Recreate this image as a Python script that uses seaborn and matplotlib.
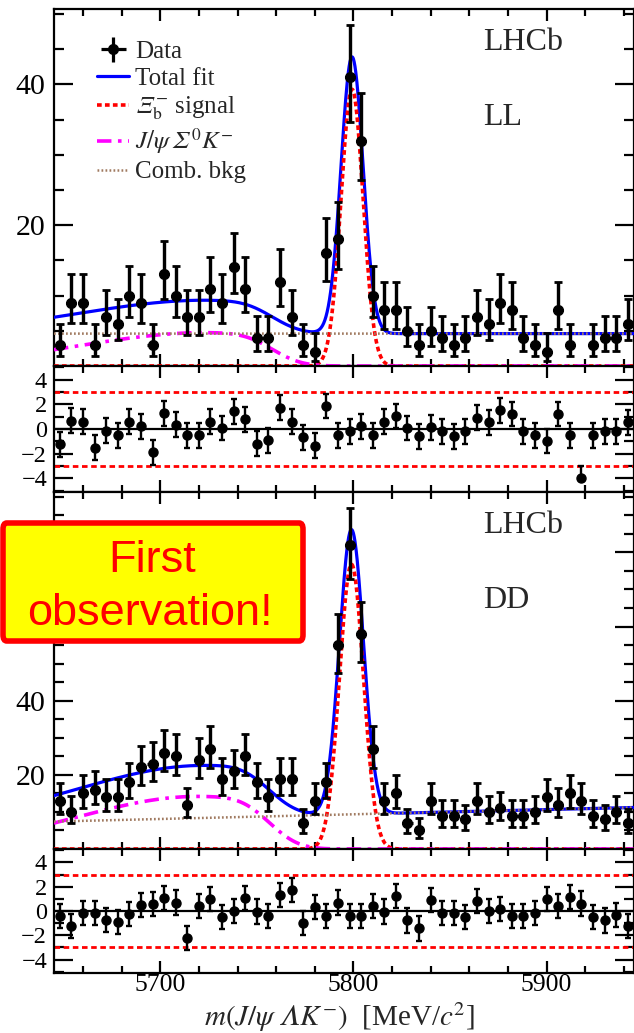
import math
import numpy as np
import pandas as pd
import matplotlib
matplotlib.use("Agg")
import matplotlib.pyplot as plt
import seaborn as sns
from matplotlib.patches import FancyBboxPatch
from matplotlib.ticker import MultipleLocator, FuncFormatter

# ---------------- binning ----------------
mass_lo, mass_hi, bin_width = 5645.0, 5945.0, 6.0
bin_centers = np.arange(mass_lo + bin_width / 2, mass_hi, bin_width)  # 50 bins

# ---------------- LL sample ----------------
ll_counts = [3, 9, 9, 3, 7, 6, 10, 9, 3, 13, 10, 7, 7, 11, 9, 14, 11, 4, 4, 12,
             7, 3, 2, 16, 18, 41, 32, 10, 8, 8, 5, 3, 5, 4, 3, 4, 7, 6, 9, 8,
             4, 3, 2, 8, 3, 0, 3, 4, 4, 6]
ll_pulls = [-1.23, 0.66, 0.60, -1.50, -0.13, -0.52, 0.60, 0.21, -1.89, 1.26,
            0.34, -0.52, -0.52, 0.60, 0.08, 1.44, 0.79, -1.18, -0.92, 1.73,
            0.60, -0.66, -1.36, 1.86, -0.52, -0.18, 0.21, -0.52, 0.60, 1.05,
            0.08, -0.58, 0.13, -0.18, -0.58, -0.18, 0.92, 0.55, 1.52, 1.21,
            -0.18, -0.52, -0.97, 1.21, -0.52, -3.99, -0.52, -0.18, -0.18, 0.55]

# ---------------- DD sample ----------------
dd_counts = [13, 10, 15, 16, 14, 14, 18, 22, 23, 26, 25, 12, 24, 27, 19, 21, 25, 18, 14, 19,
             19, 7, 13, 18, 55, 82, 58, 27, 13, 15, 7, 5, 13, 9, 9, 8, 13, 10, 11, 9,
             9, 10, 14, 12, 15, 13, 9, 8, 10, 7]
dd_pulls = [-0.41, -1.24, -0.14, -0.14, -0.74, -0.91, -0.22, 0.50, 0.55, 1.05,
            0.69, -2.21, 0.41, 0.97, -0.50, 0.00, 1.05, -0.05, -0.41, 1.32,
            1.74, -0.97, 0.33, -0.41, 0.69, -0.41, -0.41, 0.41, -0.05, 1.24,
            -0.77, -1.43, 0.88, -0.14, -0.14, -0.50, 0.83, 0.00, 0.14, -0.41,
            -0.41, -0.14, 0.97, 0.41, 1.16, 0.61, -0.50, -0.77, -0.33, -1.24]

# ---------------- fit components (yields per bin) ----------------
ll_signal = dict(peak=39.3, mean=5799.3, sigma=5.7)
ll_partial = dict(amp=4.75, mu=5724.0, sigma_left=66.0, m_end=5758.0, res=12.0)
ll_comb = dict(at_lo=4.6, at_hi=4.6)

dd_signal = dict(peak=76.8, mean=5799.0, sigma=6.2)
dd_partial = dict(amp=14.2, mu=5720.0, sigma_left=63.0, m_end=5756.5, res=12.0)
dd_comb = dict(at_lo=7.4, at_hi=11.2)

_erf = np.vectorize(math.erf)

# legend / axis texts (italic capital Greek via math-italic code points)
LBL_DATA = "Data"
LBL_TOTAL = "Total fit"
LBL_SIG = "$\U0001D6EF_{\\rm b}^{-}$ signal"
LBL_PR = "$J/\\psi\\,\U0001D6F4^{0}K^{-}$"
LBL_COMB = "Comb. bkg"
XLABEL = "$m(J/\\psi\\;\U0001D6EC K^{-})$  [MeV/$c^{2}$]"


def signal_shape(m, p):
    return p["peak"] * np.exp(-0.5 * ((m - p["mean"]) / p["sigma"]) ** 2)


def partial_shape(m, p):
    left = np.where(m < p["mu"], np.exp(-0.5 * ((m - p["mu"]) / p["sigma_left"]) ** 2), 1.0)
    edge = 0.5 * (1.0 - _erf((m - p["m_end"]) / (math.sqrt(2.0) * p["res"])))
    return p["amp"] * left * edge


def comb_shape(m, p):
    return p["at_lo"] + (p["at_hi"] - p["at_lo"]) * (m - mass_lo) / (mass_hi - mass_lo)


def poisson_errors(n):
    n = np.asarray(n, float)
    nn = np.maximum(n, 1)
    lo = np.where(n > 0, n - n * (1 - 1 / (9 * nn) - 1 / (3 * np.sqrt(nn))) ** 3, 0.0)
    hi = (n + 1) * (1 - 1 / (9 * (n + 1)) + 1 / (3 * np.sqrt(n + 1))) ** 3 - n
    return lo, hi


# ---------------- style ----------------
sns.set_theme(style="ticks")
plt.rcParams["font.family"] = ["Liberation Serif", "DejaVu Serif"]
plt.rcParams["mathtext.fontset"] = "stix"
plt.rcParams["axes.linewidth"] = 1.6
plt.rcParams["axes.edgecolor"] = "black"
plt.rcParams["xtick.color"] = "black"
plt.rcParams["ytick.color"] = "black"

BLUE, RED, MAGENTA, BROWN = "#0000ff", "#ff0000", "#ff00ff", "#a07a60"

fig = plt.figure(figsize=(6.34, 10.33), dpi=100)
W, H = 634.0, 1033.0
left = 54 / W
width = 1.0 - left - 0.5 / W


def px_axes(top, bottom):
    return [left, 1 - bottom / H, width, (bottom - top) / H]


ax_ll = fig.add_axes(px_axes(9, 366))
ax_llp = fig.add_axes(px_axes(366, 492))
ax_dd = fig.add_axes(px_axes(492, 849))
ax_ddp = fig.add_axes(px_axes(849, 973))

pull_fmt = FuncFormatter(lambda v, pos: f"{v:g}".replace("-", "\u2212"))


def main_fmt(label_max):
    return FuncFormatter(lambda v, pos: "" if (abs(v) < 1e-9 or v > label_max) else f"{v:g}")


def style_axes(ax, main):
    ax.set_xlim(mass_lo, mass_hi)
    ax.xaxis.set_major_locator(MultipleLocator(100))
    ax.xaxis.set_minor_locator(MultipleLocator(20))
    ax.tick_params(which="both", direction="in", top=True, right=True,
                   width=1.6, colors="black")
    ax.tick_params(axis="x", which="major", length=8.5, labelsize=18.5, pad=1.0)
    ax.tick_params(axis="x", which="minor", length=5)
    if main:
        ax.tick_params(axis="y", which="major", length=14, labelsize=21.5, pad=6)
        ax.tick_params(axis="y", which="minor", length=7)
    else:
        ax.tick_params(axis="y", which="major", length=14, labelsize=17.5, pad=5)
        ax.tick_params(axis="y", which="minor", length=7)
    for sp in ax.spines.values():
        sp.set_visible(True)
        sp.set_color("black")
    ax.set_xlabel("")
    ax.set_ylabel("")


def draw_main(ax, counts, sig, pr, comb, ymax, label_max, tag, legend=False):
    counts = np.asarray(counts, float)
    m = np.linspace(mass_lo, mass_hi, 1501)
    s = signal_shape(m, sig)
    p = partial_shape(m, pr)
    c = comb_shape(m, comb)
    tot = s + p + c
    curves = pd.DataFrame({"m": m, "total": tot, "sig": s, "pr": p, "comb": c})

    sns.lineplot(data=curves, x="m", y="total", ax=ax, color=BLUE, lw=2.3,
                 errorbar=None, sort=False, zorder=3, label=LBL_TOTAL)
    sns.lineplot(data=curves, x="m", y="sig", ax=ax, color=RED, lw=2.6,
                 linestyle=(0, (1.3, 0.9)), errorbar=None, sort=False, zorder=4,
                 label=LBL_SIG)
    sns.lineplot(data=curves, x="m", y="pr", ax=ax, color=MAGENTA, lw=2.6,
                 linestyle=(0, (4.0, 1.8, 1.0, 1.8)), errorbar=None, sort=False, zorder=4,
                 label=LBL_PR)
    sns.lineplot(data=curves, x="m", y="comb", ax=ax, color=BROWN, lw=1.8,
                 linestyle=(0, (0.7, 0.9)), errorbar=None, sort=False, zorder=5,
                 label=LBL_COMB)

    keep = counts > 0
    lo, hi = poisson_errors(counts)
    x = bin_centers[keep]
    y = counts[keep]
    data_h = ax.errorbar(x, y, yerr=[lo[keep], hi[keep]], xerr=2.6, fmt="o",
                         ms=7, color="black", ecolor="black", elinewidth=2.3,
                         capsize=0, zorder=6, label=LBL_DATA)
    ax.errorbar(x, y, yerr=[lo[keep], hi[keep]], fmt="none", ecolor="black",
                elinewidth=2.3, capsize=3, capthick=2, zorder=6)

    ax.set_ylim(0, ymax)
    ax.yaxis.set_major_locator(MultipleLocator(20))
    ax.yaxis.set_minor_locator(MultipleLocator(5))
    ax.yaxis.set_major_formatter(main_fmt(label_max))
    style_axes(ax, True)
    ax.tick_params(axis="x", labelbottom=False)

    ax.text(0.74, 0.905, "LHCb", transform=ax.transAxes, fontsize=23,
            ha="left", va="center")
    ax.text(0.74, 0.696, tag, transform=ax.transAxes, fontsize=23,
            ha="left", va="center")

    leg = ax.get_legend()
    if leg is not None:
        leg.remove()
    if legend:
        handles, labels = ax.get_legend_handles_labels()
        order = [LBL_DATA, LBL_TOTAL, LBL_SIG, LBL_PR, LBL_COMB]
        hmap = dict(zip(labels, handles))
        hmap[LBL_DATA] = data_h
        ax.legend([hmap[k] for k in order], order, loc="upper left",
                  bbox_to_anchor=(0.074, 0.912), frameon=False, fontsize=18,
                  handlelength=1.3, handletextpad=0.22, labelspacing=0.18,
                  borderpad=0.0, borderaxespad=0.0)


def draw_pull(ax, pulls, counts, bottom_labels):
    pulls = np.asarray(pulls, float)
    counts = np.asarray(counts, float)
    err_lo = np.where(counts > 0, 1.0, 0.0)
    err_hi = np.ones_like(pulls)
    ax.axhline(0, color="black", lw=1.6, zorder=2)
    for lvl in (3, -3):
        ax.axhline(lvl, color=RED, lw=2.0, linestyle=(0, (2.0, 1.3)), zorder=2)
    ax.errorbar(bin_centers, pulls, yerr=[err_lo, err_hi], fmt="o", ms=6.5,
                color="black", ecolor="black", elinewidth=1.7, capsize=2.5,
                capthick=1.7, zorder=5)
    ax.set_ylim(-5.1, 5.1)
    ax.yaxis.set_minor_locator(MultipleLocator(1))
    ax.yaxis.set_major_formatter(pull_fmt)
    style_axes(ax, False)
    ax.set_yticks([-4, -2, 0, 2, 4])
    ax.tick_params(axis="x", labelbottom=bottom_labels)


draw_main(ax_ll, ll_counts, ll_signal, ll_partial, ll_comb, 50.7, 50, "LL", legend=True)
draw_pull(ax_llp, ll_pulls, ll_counts, False)
draw_main(ax_dd, dd_counts, dd_signal, dd_partial, dd_comb, 96.3, 50, "DD")
draw_pull(ax_ddp, dd_pulls, dd_counts, True)

fig.text(339 / W, 1 - 1025.5 / H, XLABEL, fontsize=21, ha="center", va="baseline")

# highlight banner
box = FancyBboxPatch((3 / W, 1 - 641 / H), 300 / W, 118 / H,
                     boxstyle="round,pad=0,rounding_size=0.006",
                     transform=fig.transFigure, facecolor="#ffff00",
                     edgecolor=RED, linewidth=4.0, zorder=20)
fig.patches.append(box)
fig.text(152 / W, 1 - 571.5 / H, "First", fontsize=32.5, color=RED,
         family="Liberation Sans", ha="center", va="baseline", zorder=21)
fig.text(150 / W, 1 - 625 / H, "observation!", fontsize=32.5, color=RED,
         family="Liberation Sans", ha="center", va="baseline", zorder=21)

fig.savefig("out.png", dpi=100)
